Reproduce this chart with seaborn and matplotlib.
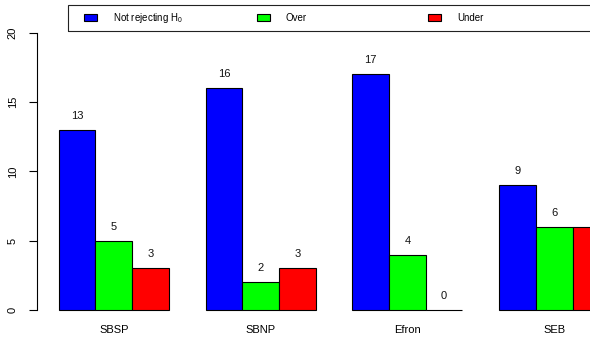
import numpy as np
import pandas as pd
import matplotlib.pyplot as plt
import matplotlib.patches as mpatches
import seaborn as sns

# data
methods = ["SBSP", "SBNP", "Efron", "SEB"]
not_rejecting = [13, 16, 17, 9]
over = [5, 2, 4, 6]
under = [3, 3, 0, 6]
outcomes = ["Not rejecting H$_0$", "Over", "Under"]
colors = ["#0000FF", "#00FF00", "#FF0000"]

df = pd.DataFrame({
    "method": methods * 3,
    "outcome": np.repeat(outcomes, len(methods)),
    "count": not_rejecting + over + under,
})

plt.rcParams['font.family'] = ['Liberation Sans', 'DejaVu Sans']
plt.rcParams['mathtext.fontset'] = 'custom'
plt.rcParams['mathtext.rm'] = 'Liberation Sans'
plt.rcParams['mathtext.default'] = 'regular'

W, H = 590, 341
fig = plt.figure(figsize=(W / 100, H / 100), dpi=100)
ax = fig.add_axes([37 / W, 31 / H, (W - 37) / W, 277.3 / H])

sns.barplot(data=df, x="method", y="count", hue="outcome",
            palette=colors, saturation=1, width=0.75, errorbar=None,
            edgecolor="black", linewidth=0.8, legend=False, ax=ax)

for p in ax.patches:
    p.set_clip_on(False)

# counts above the bars
for c in ax.containers:
    ax.bar_label(c, fmt="%d", padding=6.5, fontsize=8, color="#111111")

ax.set_xlim(-0.5228, 3.244)
ax.set_ylim(0, 20)
ax.set_yticks([0, 5, 10, 15, 20])
ax.set_xlabel("")
ax.set_ylabel("")
for s in ["top", "right", "bottom"]:
    ax.spines[s].set_visible(False)
ax.spines["left"].set_bounds(0, 20)
ax.spines["left"].set_linewidth(0.8)
ax.tick_params(axis="y", length=5.8, width=0.8, pad=8, labelsize=8,
               labelrotation=90)
ax.tick_params(axis="x", length=0, pad=11, labelsize=8)
for t in ax.get_yticklabels():
    t.set_va("center")

# legend: boxed strip at the top, entries evenly spaced like R's legend()
fig.add_artist(mpatches.Rectangle((68 / W, 1 - 31 / H), (620 - 68) / W, 26 / H,
                                  transform=fig.transFigure, fill=False,
                                  edgecolor="#222222", lw=0.8))
for lab, col, x0 in zip(outcomes, colors, [84, 256.5, 428]):
    h = mpatches.Patch(facecolor=col, edgecolor="black", lw=0.8)
    fig.legend([h], [lab], loc="center left",
               bbox_to_anchor=(x0 / W, 1 - 18 / H), frameon=False,
               fontsize=7, borderpad=0, borderaxespad=0,
               handlelength=1.35, handleheight=0.62, handletextpad=1.65)

fig.savefig("out.png", dpi=100)
